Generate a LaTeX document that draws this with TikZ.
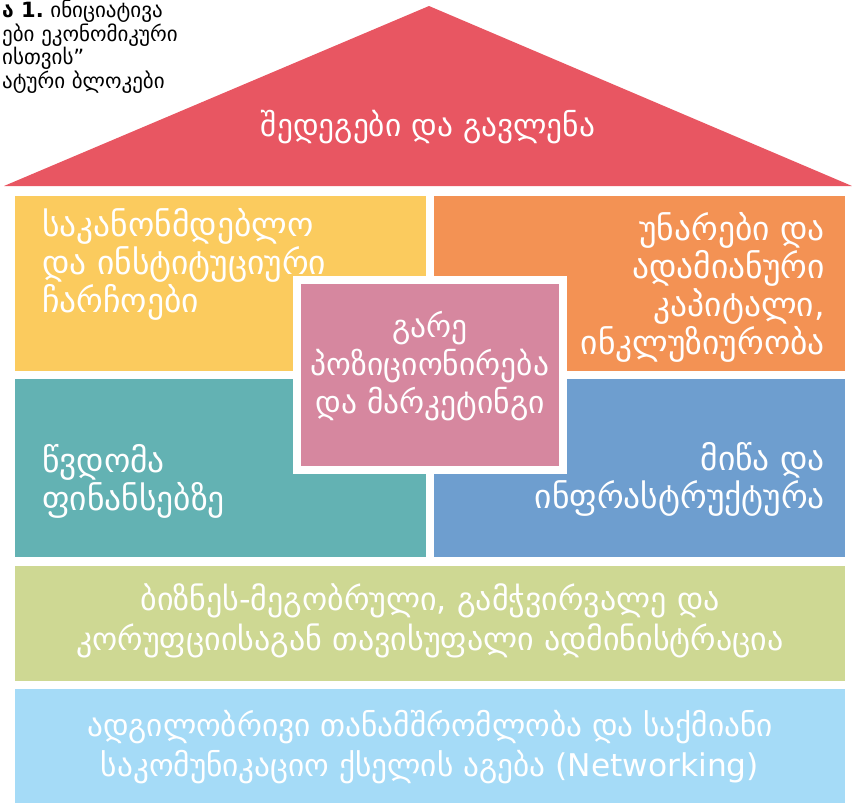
\documentclass[tikz,border=0pt]{standalone}
\usepackage{fontspec}
\usepackage{xcolor}
\usepackage{tikz}
\setmainfont{DejaVu Sans}
\definecolor{roofred}{RGB}{232,86,98}
\definecolor{lawyellow}{RGB}{251,203,94}
\definecolor{skillorange}{RGB}{243,146,84}
\definecolor{marketpink}{RGB}{214,135,159}
\definecolor{financeteal}{RGB}{99,178,179}
\definecolor{landblue}{RGB}{110,158,207}
\definecolor{adminolive}{RGB}{206,216,147}
\definecolor{netblue}{RGB}{165,219,247}
\tikzset{blocktext/.style={white, inner sep=0pt, font=\fontsize{33.5}{38}\selectfont},
    basetext/.style={blocktext, align=center, font=\fontsize{32}{40}\selectfont}}

\begin{document}
\begin{tikzpicture}[x=1pt,y=-1pt]
    \useasboundingbox (0,0) rectangle (852,803);
    % Caption
    \node[anchor=north west, align=left, inner sep=0pt, font=\fontsize{21}{23.5}\selectfont] (caption) at (2,0) {\textbf{ა 1.}\ ინიციატივა\\ები ეკონომიკური\\ისთვის"\\ატური ბლოკები};
    % Roof
    \fill[roofred] (4,186) -- (429,6) -- (852,186) -- cycle;
    \node[blocktext, font=\fontsize{31.4}{38}\selectfont] (roof) at (428,127) {შედეგები და გავლენა};
    % Upper pillars
    \fill[lawyellow] (15,196) rectangle (426,371);
    \node[blocktext, anchor=north west, align=left] (law) at (42,208) {საკანონმდებლო\\და ინსტიტუციური\\ჩარჩოები};
    \fill[skillorange] (434,196) rectangle (845,371);
    \node[blocktext, anchor=north east, align=right] (skills) at (825,212) {უნარები და\\ადამიანური\\კაპიტალი,\\ინკლუზიურობა};
    % Lower pillars
    \fill[financeteal] (15,379) rectangle (426,557);
    \node[blocktext, anchor=north west, align=left] (finance) at (42,444) {წვდომა\\ფინანსებზე};
    \fill[landblue] (434,379) rectangle (845,557);
    \node[blocktext, anchor=north east, align=right] (land) at (825,442) {მიწა და\\ინფრასტრუქტურა};
    % Centre block
    \fill[white] (293,276) rectangle (567,474);
    \fill[marketpink] (301,284) rectangle (559,466);
    \node[blocktext, align=center, font=\fontsize{31.5}{38}\selectfont] (market) at (430,366) {გარე\\პოზიციონირება\\და მარკეტინგი};
    % Foundation
    \fill[adminolive] (15,566) rectangle (845,681);
    \node[basetext] (admin) at (430,621) {ბიზნეს-მეგობრული, გამჭვირვალე და\\კორუფციისაგან თავისუფალი ადმინისტრაცია};
    \fill[netblue] (15,689) rectangle (845,803);
    \node[basetext, font=\fontsize{31.3}{40}\selectfont] (network) at (430,747) {ადგილობრივი თანამშრომლობა და საქმიანი\\საკომუნიკაციო ქსელის აგება (Networking)};
\end{tikzpicture}
\end{document}
